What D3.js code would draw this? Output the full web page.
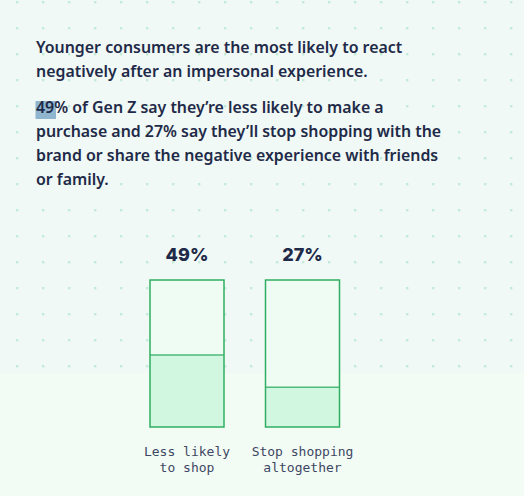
<!DOCTYPE html>
<html><head><meta charset="utf-8">
<script src="https://cdn.jsdelivr.net/npm/d3@7"></script>
<style>html,body{margin:0;padding:0;background:#f2fcf4;}svg{display:block;}</style>
</head><body>
<script>
const categories = ["Less likely\nto shop", "Stop shopping\naltogether"];
const values = [49, 27];
const valueLabels = ["49%", "27%"];
const headline = ["Younger consumers are the most likely to react", "negatively after an impersonal experience."];
const body = ["49% of Gen Z say they\u2019re less likely to make a", "purchase and 27% say they\u2019ll stop shopping with the", "brand or share the negative experience with friends", "or family."];

const W = 524, H = 496;
const svg = d3.select("body").append("svg").attr("width", W).attr("height", H);

svg.append("rect").attr("width", W).attr("height", H).attr("fill", "#f2fcf4");
svg.append("rect").attr("width", W).attr("height", 373).attr("fill", "#f0f9f6");

// dot grid
const dots = [];
for (let y = 2; y < 373; y += 26) for (let x = 17; x < W; x += 26) dots.push([x, y]);
svg.append("g").selectAll("rect").data(dots).join("rect")
  .attr("x", d => d[0] - 1).attr("y", d => d[1] - 1).attr("width", 2.4).attr("height", 2.4)
  .attr("fill", "#c3ecd8");

const textFont = "'Noto Sans', sans-serif";
const navy = "#1f2a48";

// highlight behind "49"
svg.append("rect").attr("x", 35.5).attr("y", 101).attr("width", 20.5).attr("height", 18).attr("fill", "#8fb5cf");

const t = svg.append("g").attr("font-family", textFont).attr("font-weight", 600).attr("font-size", 15.9).attr("fill", navy);
headline.forEach((s, i) => t.append("text").attr("x", 36).attr("y", 53 + i * 24).text(s));
body.forEach((s, i) => t.append("text").attr("x", 36).attr("y", 113 + i * 24).text(s));

// chart
const x = d3.scalePoint().domain(categories).range([187, 302.5]);
const bw = 74;
const y = d3.scaleLinear().domain([0, 100]).range([427, 280]);

const g = svg.append("g");
const bars = g.selectAll("g.bar").data(categories.map((c, i) => ({c, v: values[i], l: valueLabels[i]}))).join("g");
bars.append("rect").attr("x", d => x(d.c) - bw / 2).attr("y", y(100)).attr("width", bw).attr("height", y(0) - y(100))
  .attr("fill", "#effcf4");
bars.append("rect").attr("x", d => x(d.c) - bw / 2).attr("y", d => y(d.v)).attr("width", bw).attr("height", d => y(0) - y(d.v))
  .attr("fill", "#d2f7e0");
bars.append("line").attr("x1", d => x(d.c) - bw / 2).attr("x2", d => x(d.c) + bw / 2)
  .attr("y1", d => y(d.v)).attr("y2", d => y(d.v)).attr("stroke", "#4cba78").attr("stroke-width", 1.5);
bars.append("rect").attr("x", d => x(d.c) - bw / 2).attr("y", y(100)).attr("width", bw).attr("height", y(0) - y(100))
  .attr("fill", "none").attr("stroke", "#2fae62").attr("stroke-width", 1.5);
bars.append("text").attr("x", d => x(d.c)).attr("y", 261).attr("text-anchor", "middle")
  .attr("font-family", "Inter, sans-serif").attr("font-weight", 800).attr("font-size", 18).attr("fill", navy)
  .text(d => d.l);
bars.each(function(d) {
  const lines = d.c.split("\n");
  lines.forEach((s, i) => d3.select(this).append("text").attr("x", x(d.c)).attr("y", 456 + i * 16)
    .attr("text-anchor", "middle").attr("font-family", "'DejaVu Sans Mono', monospace").attr("font-size", 13)
    .attr("fill", "#3e4763").text(s));
});
</script>
</body></html>
